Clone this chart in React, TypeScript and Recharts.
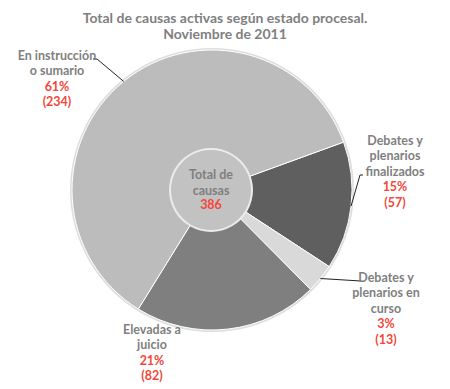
import { PieChart, Pie, Cell } from "recharts";

const categories = [
  "Debates y plenarios finalizados",
  "Debates y plenarios en curso",
  "Elevadas a juicio",
  "En instrucción o sumario",
];
const counts = [57, 13, 82, 234];
const percents = ["15%", "3%", "21%", "61%"];
const TOTAL = 386;

const COLORS = ["#5f5f5f", "#d9d9d9", "#7f7f7f", "#bcbcbc"];
const GRAY = "#7f7f7f";
const RED = "#f2473a";
const FONT = "Lato, 'Open Sans', sans-serif";

// label text lines and where each label sits relative to the pie centre
const LABEL_LINES: string[][] = [
  ["Debates y", "plenarios", "finalizados"],
  ["Debates y", "plenarios en", "curso"],
  ["Elevadas a", "juicio"],
  ["En instrucción", "o sumario"],
];
const LABEL_POS = [
  { dx: 183, dy: -50, elbow: [148, -15], end: [151, -15] },
  { dx: 174, dy: 87, elbow: null, end: [149, 91] },
  { dx: -60, dy: 139, elbow: null, end: null },
  { dx: -155, dy: -135, elbow: [-115, -131], end: [-119, -131] },
];

const data = categories.map((name, i) => ({
  name,
  value: counts[i],
  pct: percents[i],
}));

const RAD = Math.PI / 180;

function renderLabel(props: any) {
  const { cx, cy, midAngle, outerRadius, index } = props;
  const pos = LABEL_POS[index];
  const lines = [...LABEL_LINES[index], data[index].pct, `(${data[index].value})`];
  const sx = cx + outerRadius * Math.cos(-midAngle * RAD);
  const sy = cy + outerRadius * Math.sin(-midAngle * RAD);
  let path = "";
  if (pos.end) {
    path = `M${sx},${sy}`;
    if (pos.elbow) path += ` L${cx + pos.elbow[0]},${cy + pos.elbow[1]}`;
    path += ` L${cx + pos.end[0]},${cy + pos.end[1]}`;
  }
  const tx = cx + pos.dx;
  const ty = cy + pos.dy;
  return (
    <g key={`lbl-${index}`}>
      {path && <path d={path} stroke="#222" strokeWidth={1} fill="none" />}
      {lines.map((l, i) => (
        <text
          key={i}
          x={tx}
          y={ty + i * 15.5}
          textAnchor="middle"
          dominantBaseline="central"
          fontFamily={FONT}
          fontWeight={700}
          fontSize={12.5}
          fill={i >= lines.length - 2 ? RED : GRAY}
        >
          {l}
        </text>
      ))}
    </g>
  );
}

function renderCenter(props: any) {
  const { cx, cy } = props;
  const common = {
    x: cx,
    textAnchor: "middle" as const,
    dominantBaseline: "central" as const,
    fontFamily: FONT,
    fontWeight: 700,
    fontSize: 12.5,
  };
  return (
    <g key="center">
      <text {...common} y={cy - 16} fill={GRAY}>Total de</text>
      <text {...common} y={cy} fill={GRAY}>causas</text>
      <text {...common} y={cy + 14} fill={RED}>{TOTAL}</text>
    </g>
  );
}

export default function App() {
  return (
    <div style={{ position: "absolute", left: 0, top: 0, width: 450, height: 389, background: "#fff" }}>
      <svg width={450} height={40} style={{ position: "absolute", left: 0, top: 0 }}>
        <text x={225} y={17} textAnchor="middle" dominantBaseline="central" fontFamily={FONT} fontWeight={700} fontSize={14} fill={GRAY}>
          Total de causas activas según estado procesal.
        </text>
        <text x={225} y={33} textAnchor="middle" dominantBaseline="central" fontFamily={FONT} fontWeight={700} fontSize={14} fill={GRAY}>
          Noviembre de 2011
        </text>
      </svg>
      <div style={{ position: "absolute", left: 0, top: 0 }}>
        <PieChart width={450} height={389} margin={{ top: 0, right: 0, bottom: 0, left: 0 }}>
          <Pie
            data={[{ name: "rim", value: 1 }]}
            dataKey="value"
            cx={212}
            cy={190}
            outerRadius={142}
            startAngle={0}
            endAngle={360}
            fill="#dedede"
            stroke="none"
            isAnimationActive={false}
          />
          <Pie
            data={data}
            dataKey="value"
            cx={212}
            cy={190}
            outerRadius={140}
            startAngle={20}
            endAngle={-340}
            stroke="#ffffff"
            strokeWidth={1}
            label={renderLabel}
            labelLine={false}
            isAnimationActive={false}
          >
            {data.map((d, i) => (
              <Cell key={d.name} fill={COLORS[i]} />
            ))}
          </Pie>
          <Pie
            data={[{ name: "ring", value: 1 }]}
            dataKey="value"
            cx={211}
            cy={190}
            innerRadius={39}
            outerRadius={42}
            startAngle={0}
            endAngle={360}
            fill="#ececec"
            stroke="none"
            isAnimationActive={false}
          />
          <Pie
            data={[{ name: "Total", value: TOTAL }]}
            dataKey="value"
            cx={211}
            cy={190}
            outerRadius={40}
            startAngle={0}
            endAngle={360}
            fill="#c2c2c2"
            stroke="none"
            label={renderCenter}
            labelLine={false}
            isAnimationActive={false}
          />
        </PieChart>
      </div>
    </div>
  );
}
